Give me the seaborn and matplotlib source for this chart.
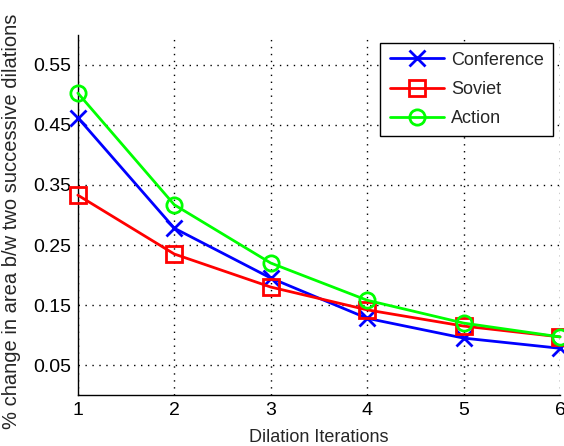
import pandas as pd
import seaborn as sns
import matplotlib.pyplot as plt

iterations = [1, 2, 3, 4, 5, 6]
conference = [0.462, 0.278, 0.195, 0.128, 0.095, 0.078]
soviet = [0.333, 0.235, 0.180, 0.142, 0.115, 0.097]
action = [0.503, 0.317, 0.220, 0.158, 0.120, 0.097]
series_names = ["Conference", "Soviet", "Action"]
y_ticks = [0.05, 0.15, 0.25, 0.35, 0.45, 0.55]

df = pd.DataFrame({
    "iter": iterations * 3,
    "value": conference + soviet + action,
    "series": [n for n in series_names for _ in iterations],
})

sns.set_style("white")
plt.rcParams["font.family"] = ["Liberation Sans", "DejaVu Sans"]

fig = plt.figure(figsize=(5.64, 4.46), dpi=100)
ax = fig.add_axes([0.138, 0.114, 0.855, 0.808])

colors = {"Conference": "#0000ff", "Soviet": "#ff0000", "Action": "#00ff00"}
markers = {"Conference": "x", "Soviet": "s", "Action": "o"}
for name in series_names:
    sub = df[df["series"] == name]
    sns.lineplot(data=sub, x="iter", y="value", color=colors[name],
                 marker=markers[name], label=name, ax=ax,
                 linewidth=2, markersize=11, markerfacecolor="none",
                 markeredgecolor=colors[name], markeredgewidth=2,
                 clip_on=False, zorder=3)

ax.set_xlim(1, 6)
ax.set_ylim(0, 0.6)
ax.set_xticks(iterations)
ax.set_yticks(y_ticks)
ax.set_yticklabels([f"{t:.2f}" for t in y_ticks])
ax.grid(True, color="black", linestyle=(0, (1, 4)), linewidth=1)
ax.tick_params(direction="in", length=5, labelsize=14, colors="black", pad=5)
for s in ["top", "right"]:
    ax.spines[s].set_visible(False)
for s in ["left", "bottom"]:
    ax.spines[s].set_color("black")
    ax.spines[s].set_linewidth(1)

ax.set_xlabel("Dilation Iterations", fontsize=13, labelpad=7)
ax.set_ylabel("% change in area b/w two successive dilations", fontsize=14.5)
ax.yaxis.set_label_coords(-0.117, 0.483)

leg = ax.legend(loc="upper right", fontsize=13, frameon=True, fancybox=False,
                edgecolor="black", framealpha=1, handlelength=3.0,
                labelspacing=0.68, handletextpad=0.4,
                bbox_to_anchor=(0.985, 0.978), borderpad=0.5,
                borderaxespad=0)
leg.get_frame().set_linewidth(1)

fig.savefig("out.png", dpi=100)
